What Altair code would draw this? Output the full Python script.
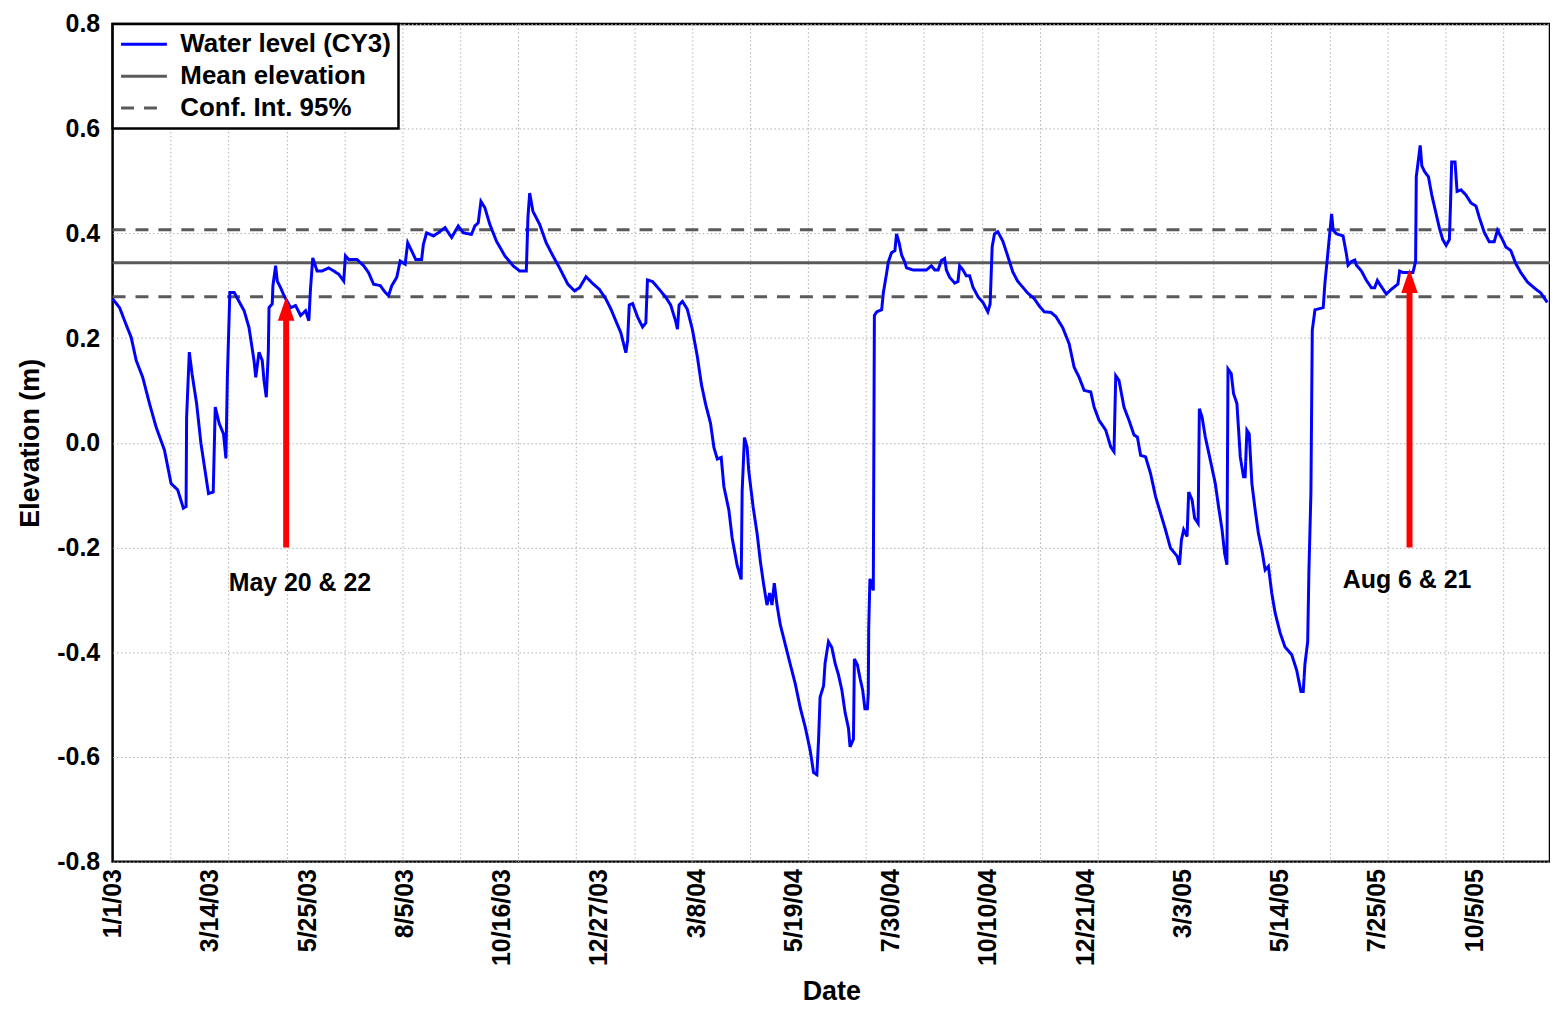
import altair as alt
import pandas as pd

# ---------------- data ----------------
WL = "Water level (CY3)"
ME = "Mean elevation"
CI = "Conf. Int. 95%"
series_order = [WL, ME, CI]

start_date = "2003-01-01"
end_day = 1064.2  # right edge of the plot, days after start_date

# water level: days after 2003-01-01 and elevation (m)
day = [0, 5.2, 8.9, 13.8, 17.5, 22.3, 27.3, 32.2, 38.4, 43.3, 48.2, 52.4, 54.4, 54.8, 56.8, 58.8,
       62.2, 65.4, 71.0, 74.5, 76.0, 78.9, 82.1, 83.9, 85.0, 86.8, 90.0, 97.4, 101.0, 104.7, 106.0,
       108.4, 110.8, 112.1, 113.8, 115.3, 115.8, 118.2, 118.7, 120.7, 121.9, 124.4, 126.9, 131.8,
       135.5, 139.2, 142.9, 145.3, 146.5, 148.2, 151.4, 155.1, 160.0, 167.4, 171.1, 172.4, 174.8,
       180.9, 185.9, 189.5, 193.2, 198.2, 201.9, 204.3, 206.7, 210.4, 212.9, 216.6, 218.5, 221.5,
       224.4, 228.8, 230.1, 232.5, 237.5, 241.2, 246.1, 251.0, 255.9, 259.6, 265.7, 268.2, 270.7,
       272.7, 275.6, 279.3, 284.2, 290.4, 296.5, 301.4, 306.3, 307.5, 308.8, 311.2, 316.2, 321.0,
       326.0, 330.9, 337.0, 342.0, 345.7, 350.5, 355.5, 360.4, 365.3, 369.0, 372.7, 376.3, 380.0,
       381.3, 382.5, 385.0, 388.7, 392.4, 394.8, 396.0, 399.7, 404.7, 409.5, 413.2, 416.9, 418.2,
       419.4, 421.9, 425.5, 429.2, 432.9, 435.9, 439.0, 442.7, 445.2, 447.7, 450.6, 452.6, 456.3,
       458.7, 462.4, 465.4, 466.1, 467.8, 469.8, 471.0, 474.2, 477.2, 479.6, 482.1, 484.5, 486.5,
       488.2, 489.9, 491.9, 494.3, 498.0, 501.7, 505.4, 509.1, 512.8, 516.5, 519.0, 521.4, 522.7,
       523.8, 526.4, 527.5, 530.0, 532.5, 534.9, 537.4, 539.9, 542.3, 544.8, 546.0, 548.5, 549.2,
       551.4, 553.4, 555.3, 557.0, 558.8, 559.5, 559.8, 560.7, 563.2, 564.0, 565.7, 569.4, 570.6,
       573.0, 574.3, 576.7, 579.2, 580.4, 582.4, 584.1, 586.5, 587.8, 592.7, 602.5, 606.2, 608.7,
       611.2, 613.6, 616.0, 617.3, 619.7, 623.4, 625.9, 627.1, 629.6, 632.0, 634.5, 637.0, 640.7,
       644.4, 648.0, 649.7, 651.2, 652.9, 655.4, 659.1, 662.8, 666.5, 670.2, 673.9, 677.5, 682.4,
       686.1, 689.8, 694.7, 698.4, 703.4, 708.2, 711.9, 715.6, 719.3, 724.2, 726.7, 730.3, 735.3,
       739.0, 741.4, 742.7, 745.1, 748.8, 752.5, 756.2, 758.7, 761.1, 764.8, 768.5, 772.2, 775.9,
       779.5, 783.2, 788.2, 789.9, 791.3, 793.0, 795.5, 796.7, 799.2, 801.1, 803.7, 804.6, 806.6,
       809.0, 812.7, 816.4, 818.8, 821.4, 823.3, 825.0, 825.8, 828.2, 829.9, 832.4, 834.9, 837.3,
       838.5, 839.8, 841.5, 843.5, 845.9, 848.3, 850.9, 853.3, 855.7, 858.2, 860.7, 864.4, 868.0,
       873.0, 876.7, 879.8, 881.5, 882.8, 884.8, 885.7, 887.2, 888.2, 890.2, 896.3, 897.5, 899.5,
       901.2, 902.5, 903.7, 906.2, 911.0, 913.5, 914.7, 917.2, 919.7, 920.9, 924.6, 928.3, 932.0,
       934.4, 936.4, 938.1, 943.0, 946.7, 951.6, 952.9, 955.3, 962.7, 964.7, 965.2, 966.9, 968.1,
       969.3, 971.3, 974.2, 976.7, 979.9, 982.4, 984.8, 987.3, 989.7, 990.5, 991.4, 993.9, 995.4,
       998.4, 1002.0, 1005.7, 1009.4, 1011.9, 1015.5, 1019.2, 1022.9, 1025.3, 1029.0, 1031.5,
       1035.2, 1038.9, 1042.6, 1047.5, 1052.4, 1057.4, 1062.2]

level = [0.275, 0.258, 0.233, 0.201, 0.157, 0.125, 0.075, 0.030, -0.014, -0.078, -0.090, -0.125,
         -0.122, 0.049, 0.173, 0.132, 0.075, -0.001, -0.097, -0.094, 0.068, 0.037, 0.017, -0.030,
         0.128, 0.287, 0.287, 0.252, 0.220, 0.157, 0.125, 0.173, 0.157, 0.119, 0.087, 0.173, 0.258,
         0.265, 0.300, 0.338, 0.309, 0.296, 0.281, 0.258, 0.262, 0.243, 0.252, 0.233, 0.293, 0.353,
         0.328, 0.328, 0.334, 0.322, 0.309, 0.357, 0.350, 0.350, 0.338, 0.325, 0.303, 0.300, 0.287,
         0.281, 0.300, 0.316, 0.347, 0.341, 0.382, 0.366, 0.350, 0.350, 0.379, 0.401, 0.395, 0.401,
         0.411, 0.392, 0.414, 0.401, 0.398, 0.414, 0.420, 0.461, 0.449, 0.417, 0.385, 0.357, 0.338,
         0.328, 0.328, 0.430, 0.477, 0.442, 0.417, 0.382, 0.357, 0.334, 0.303, 0.290, 0.296, 0.317,
         0.304, 0.293, 0.274, 0.255, 0.232, 0.210, 0.172, 0.195, 0.263, 0.266, 0.240, 0.221, 0.229,
         0.311, 0.308, 0.293, 0.278, 0.263, 0.232, 0.217, 0.263, 0.270, 0.255, 0.217, 0.165, 0.112,
         0.074, 0.037, -0.009, -0.031, -0.028, -0.084, -0.129, -0.182, -0.234, -0.261, -0.092,
         0.010, -0.009, -0.054, -0.122, -0.174, -0.227, -0.272, -0.310, -0.287, -0.310, -0.268,
         -0.310, -0.347, -0.385, -0.423, -0.460, -0.506, -0.543, -0.588, -0.630, -0.634, -0.566,
         -0.486, -0.464, -0.421, -0.380, -0.391, -0.421, -0.443, -0.472, -0.515, -0.545, -0.581,
         -0.566, -0.413, -0.424, -0.450, -0.472, -0.508, -0.508, -0.479, -0.355, -0.260, -0.282,
         0.243, 0.250, 0.254, 0.286, 0.323, 0.345, 0.363, 0.367, 0.399, 0.381, 0.359, 0.345, 0.334,
         0.330, 0.330, 0.338, 0.330, 0.330, 0.348, 0.352, 0.330, 0.316, 0.305, 0.308, 0.338, 0.330,
         0.319, 0.319, 0.297, 0.279, 0.268, 0.250, 0.265, 0.374, 0.399, 0.403, 0.385, 0.356, 0.326,
         0.308, 0.297, 0.286, 0.275, 0.261, 0.250, 0.249, 0.241, 0.220, 0.189, 0.144, 0.125, 0.100,
         0.097, 0.068, 0.043, 0.024, -0.008, -0.017, 0.128, 0.119, 0.068, 0.043, 0.015, 0.011,
         -0.024, -0.027, -0.059, -0.103, -0.135, -0.166, -0.201, -0.217, -0.233, -0.186, -0.166,
         -0.179, -0.094, -0.109, -0.144, -0.154, 0.065, 0.049, 0.011, -0.033, -0.078, -0.122,
         -0.166, -0.211, -0.233, 0.141, 0.132, 0.094, 0.075, -0.027, -0.065, -0.065, 0.024, 0.017,
         -0.078, -0.128, -0.173, -0.205, -0.243, -0.236, -0.287, -0.325, -0.363, -0.390, -0.405,
         -0.435, -0.475, -0.475, -0.422, -0.380, -0.246, -0.095, 0.215, 0.254, 0.258, 0.303, 0.356,
         0.402, 0.437, 0.406, 0.399, 0.395, 0.360, 0.339, 0.346, 0.349, 0.339, 0.328, 0.310, 0.296,
         0.296, 0.310, 0.303, 0.284, 0.293, 0.303, 0.328, 0.325, 0.325, 0.346, 0.508, 0.543, 0.568,
         0.529, 0.518, 0.508, 0.473, 0.437, 0.409, 0.388, 0.377, 0.388, 0.452, 0.536, 0.536, 0.480,
         0.483, 0.473, 0.458, 0.452, 0.430, 0.402, 0.384, 0.384, 0.406, 0.388, 0.374, 0.367, 0.342,
         0.325, 0.307, 0.296, 0.286, 0.268]

mean_elev = 0.344
ci_upper = 0.407
ci_lower = 0.279

# x tick labels (every 72 days) and y tick values
label_dates = ["2003-01-01", "2003-03-14", "2003-05-25", "2003-08-05", "2003-10-16",
               "2003-12-27", "2004-03-08", "2004-05-19", "2004-07-30", "2004-10-10",
               "2004-12-21", "2005-03-03", "2005-05-14", "2005-07-25", "2005-10-05"]
y_ticks = [-0.8, -0.6, -0.4, -0.2, 0.0, 0.2, 0.4, 0.6, 0.8]

# annotations
arrow_day = [128.5, 960.2]
arrow_from = [-0.2, -0.2]
arrow_tip = [0.279, 0.332]
note_text = ["May 20 & 22", "Aug 6 & 21"]
note_day = [138.7, 958.4]
note_value = [-0.267, -0.263]

# ---------------- styles ----------------
FONT = "Liberation Sans"
GRID_STEP_DAYS = 42.9
N_GRID = 24

base = pd.Timestamp(start_date)


def to_ms(d):
    return int((base + pd.Timedelta(days=d)).value // 10**6)


wl_df = pd.DataFrame({
    "t": [to_ms(d) for d in day],
    "value": level,
    "series": WL,
    "idx": list(range(len(day))),
})

ref_df = pd.DataFrame({
    "t": [to_ms(0), to_ms(end_day)] * 3,
    "value": [mean_elev, mean_elev, ci_upper, ci_upper, ci_lower, ci_lower],
    "series": [ME, ME, CI, CI, CI, CI],
    "line": ["mean", "mean", "up", "up", "low", "low"],
})

arrow_df = pd.DataFrame({
    "t": [to_ms(d) for d in arrow_day],
    "y_from": arrow_from,
    "y_tip": arrow_tip,
})

note_df = pd.DataFrame({
    "t": [to_ms(d) for d in note_day],
    "value": note_value,
    "label": note_text,
})

label_ms = [int(pd.Timestamp(s).value // 10**6) for s in label_dates]
grid_ms = [to_ms(GRID_STEP_DAYS * k) for k in range(1, N_GRID + 1)]

x_scale = alt.Scale(type="utc", domain=[to_ms(0), to_ms(end_day)], nice=False)
y_scale = alt.Scale(domain=[-0.8, 0.8], nice=False, zero=False)

x_grid = alt.X(
    "t:T", scale=x_scale, title=None,
    axis=alt.Axis(values=grid_ms, labels=False, ticks=False, domain=False, grid=True,
                  orient="bottom", gridColor="#b0b0b0", gridDash=[1.5, 2.5], gridWidth=1),
)
x_lab = alt.X(
    "t:T", scale=x_scale, title="Date",
    axis=alt.Axis(values=label_ms, format="%-m/%-d/%y", labelAngle=270, grid=False,
                  ticks=False, domain=False, orient="bottom", labelFont=FONT,
                  labelFontSize=25, labelFontWeight="bold", labelColor="black",
                  labelPadding=7, labelFlush=False, labelOverlap=False, labelBound=False,
                  titleFont=FONT, titleFontSize=27, titleFontWeight="bold",
                  titleColor="black", titlePadding=13),
)

y_axis = alt.Axis(values=y_ticks, labelExpr="replace(format(datum.value, '.1f'), '\u2212', '-')",
                  grid=True, gridColor="#b0b0b0", gridDash=[1.5, 2.5], gridWidth=1,
                  ticks=False, domain=False, labelFont=FONT, labelFontSize=25,
                  labelFontWeight="bold", labelColor="black", labelPadding=13,
                  titleFont=FONT, titleFontSize=27, titleFontWeight="bold",
                  titleColor="black", titlePadding=12)


def ys(field):
    return alt.Y(field, scale=y_scale, axis=y_axis, title="Elevation (m)")


legend = alt.Legend(title=None, orient="top-left", offset=0, padding=7, rowPadding=5,
                    clipHeight=27,
                    symbolType="stroke", symbolSize=2116, symbolStrokeWidth=3,
                    labelFont=FONT, labelFontSize=26, labelFontWeight="bold",
                    labelColor="black", labelOffset=12, labelLimit=400,
                    fillColor="white", strokeColor="black")

color_enc = alt.Color("series:N", scale=alt.Scale(domain=series_order,
                                                  range=["#0000ff", "#5a5a5a", "#5a5a5a"]),
                      legend=legend)
dash_enc = alt.StrokeDash("series:N", scale=alt.Scale(domain=series_order,
                                                      range=[[1, 0], [1, 0], [13, 10]]),
                          legend=legend)

ref = alt.Chart(ref_df).mark_line(strokeWidth=3).encode(
    x=x_grid, y=ys("value:Q"), color=color_enc, strokeDash=dash_enc, detail="line:N")

wl = alt.Chart(wl_df).mark_line(strokeWidth=3).encode(
    x=x_grid, y=ys("value:Q"), color=color_enc, strokeDash=dash_enc, order="idx:Q")

shaft = alt.Chart(arrow_df).mark_rule(color="#ff0000", strokeWidth=6, y2Offset=12).encode(
    x=x_lab, y=ys("y_from:Q"), y2="y_tip:Q")

head = alt.Chart(arrow_df).mark_point(
    shape="M0,-1L0.65,0.9L-0.65,0.9Z", filled=True, color="#ff0000", opacity=1,
    size=650, yOffset=12.75).encode(x=x_lab, y=ys("y_tip:Q"))

notes = alt.Chart(note_df).mark_text(
    font=FONT, fontSize=25, fontWeight="bold", color="black", align="center",
    baseline="middle").encode(x=x_lab, y=ys("value:Q"), text="label:N")

lines = alt.layer(ref, wl)
annotations = alt.layer(shaft, head, notes)

chart = alt.layer(lines, annotations).resolve_axis(x="independent").properties(
    width=1443, height=841,
    padding={"left": 105, "top": 14, "right": 0, "bottom": 145},
    autosize=alt.AutoSizeParams(type="none"),
    background="white",
).configure_view(stroke="black", strokeWidth=2.5).configure_legend(strokeWidth=2.5)

chart.save("out.html", embed_options={"renderer": "svg", "actions": False})
